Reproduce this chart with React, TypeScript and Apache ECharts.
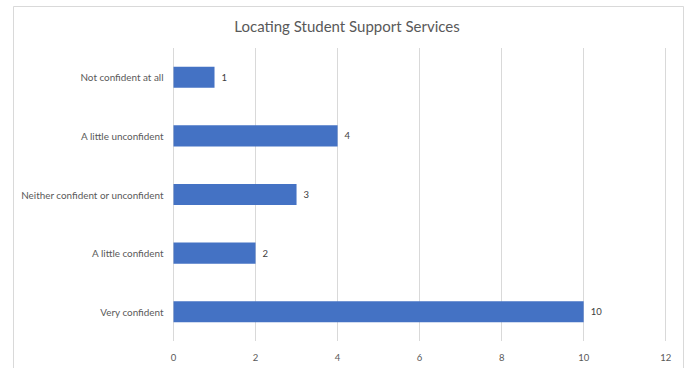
import React, { useEffect, useRef } from "react";
import * as echarts from "echarts";

const title = "Locating Student Support Services";
const categories = [
  "Very confident",
  "A little confident",
  "Neither confident or unconfident",
  "A little unconfident",
  "Not confident at all",
];
const values = [10, 2, 3, 4, 1];
const xMin = 0;
const xMax = 12;
const xInterval = 2;

export default function App() {
  const ref = useRef<HTMLDivElement>(null);
  useEffect(() => {
    if (!ref.current) return;
    const chart = echarts.init(ref.current, null, { renderer: "svg" });
    const font = "Lato, 'Open Sans', sans-serif";
    chart.setOption({
      animation: false,
      backgroundColor: "#ffffff",
      title: {
        text: title,
        left: 342,
        textAlign: "center",
        top: 13,
        textStyle: { fontFamily: font, fontSize: 15, fontWeight: "normal", color: "#595959" },
      },
      graphic: [
        {
          type: "rect",
          shape: { x: 13.5, y: 6.5, width: 670, height: 420 },
          style: { fill: "none", stroke: "#d9d9d9", lineWidth: 1 },
          silent: true,
        },
      ],
      grid: { left: 173.5, right: 686 - 665.7, top: 48, height: 293, containLabel: false },
      xAxis: {
        type: "value",
        min: xMin,
        max: xMax,
        interval: xInterval,
        axisLine: { show: false },
        axisTick: { show: false },
        splitLine: { show: true, lineStyle: { color: "#d9d9d9", width: 1 } },
        axisLabel: { fontFamily: font, fontSize: 9.5, color: "#595959", margin: 11 },
      },
      yAxis: {
        type: "category",
        data: categories,
        axisLine: { show: false },
        axisTick: { show: false },
        splitLine: { show: false },
        axisLabel: { fontFamily: font, fontSize: 9.9, color: "#595959", margin: 10 },
      },
      series: [
        {
          type: "bar",
          data: values,
          barCategoryGap: "64%",
          itemStyle: { color: "#4472c4" },
          label: {
            show: true,
            position: "right",
            distance: 7,
            fontFamily: font,
            fontSize: 9.5,
            color: "#404040",
          },
        },
      ],
    });
    return () => chart.dispose();
  }, []);
  return (
    <div
      ref={ref}
      style={{ position: "fixed", left: 0, top: 0, width: 686, height: 368 }}
    />
  );
}
